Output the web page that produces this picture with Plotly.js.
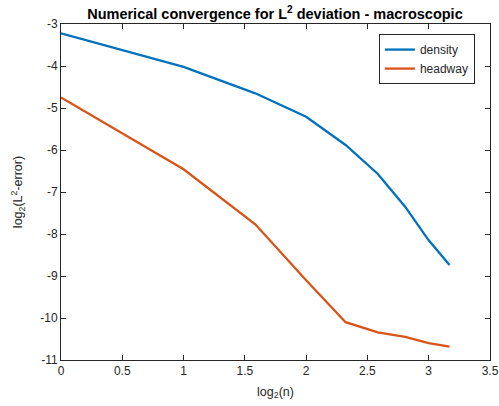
<!DOCTYPE html>
<html><head><meta charset="utf-8">
<script src="https://cdn.plot.ly/plotly-3.0.1.min.js"></script>
<style>html,body{margin:0;padding:0;background:#fff}#c{width:499px;height:406px}</style>
</head><body><div id="c"></div>
<script>
const logN = [0, 1, 1.585, 2, 2.3219, 2.585, 2.8074, 3, 3.1699];
const density = [-3.22, -4.02, -4.65, -5.21, -5.88, -6.57, -7.35, -8.15, -8.74];
const headway = [-4.75, -6.46, -7.77, -9.1, -10.1, -10.34, -10.45, -10.6, -10.68];
const seriesNames = ['density', 'headway'];
const yTickVals = [-11, -10, -9, -8, -7, -6, -5, -4, -3];
const yTickText = ['-11', '-10', '-9', '-8', '-7', '-6', '-5', '-4', '-3'];
const axCol = '#262626';
const ff = 'Liberation Sans, Arial, sans-serif';
const font = {family: ff, size: 12, color: axCol};
const traces = [
  {x: logN, y: density, name: seriesNames[0], mode: 'lines', line: {color: '#0072BD', width: 2.3}},
  {x: logN, y: headway, name: seriesNames[1], mode: 'lines', line: {color: '#D95319', width: 2.3}}
];
const axBase = {showgrid: false, zeroline: false, showline: true, linecolor: axCol, linewidth: 1,
  ticks: 'inside', ticklen: 5, tickcolor: axCol, mirror: 'ticks', tickfont: font};
const layout = {
  width: 499, height: 406,
  margin: {l: 61, r: 9, t: 24, b: 46},
  paper_bgcolor: '#fff', plot_bgcolor: '#fff',
  font: font,
  title: {text: '<b>Numerical convergence for L<sup>2</sup> deviation - macroscopic</b>',
    font: {family: ff, size: 14.5, color: '#000'},
    x: 0.551, xanchor: 'center', y: 1, yref: 'paper', yanchor: 'bottom', pad: {b: 5}},
  xaxis: Object.assign({}, axBase, {range: [0, 3.5], dtick: 0.5, tick0: 0,
    title: {text: 'log<sub>2</sub>(n)', font: {family: ff, size: 12.5, color: axCol}, standoff: 9}}),
  yaxis: Object.assign({}, axBase, {range: [-11, -3], tickmode: 'array', tickvals: yTickVals, ticktext: yTickText,
    title: {text: 'log<sub>2</sub>(L<sup>2</sup>-error)', font: {family: ff, size: 12.5, color: axCol}, standoff: 14}}),
  showlegend: true,
  legend: {x: 0.741, y: 0.97, xanchor: 'left', yanchor: 'top', bgcolor: '#fff',
    bordercolor: axCol, borderwidth: 1, font: font, tracegroupgap: 0,
    itemwidth: 30}
};
Plotly.newPlot('c', traces, layout, {displayModeBar: false, staticPlot: true});
</script></body></html>
